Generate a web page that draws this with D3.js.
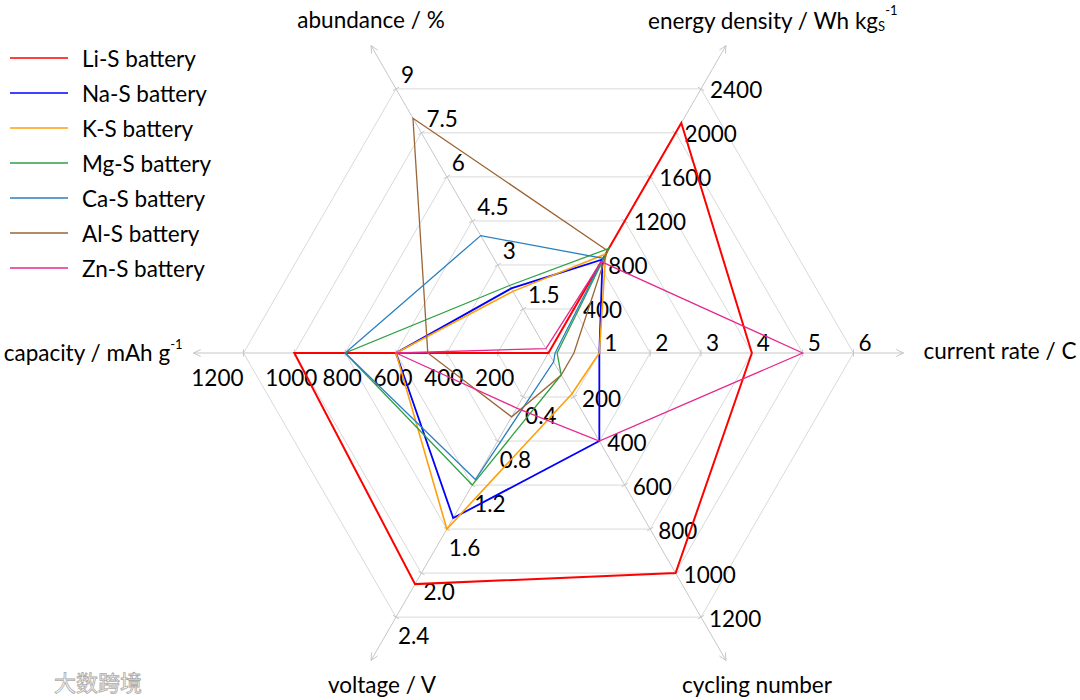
<!DOCTYPE html>
<html>
<head>
<meta charset="utf-8">
<script src="https://cdn.jsdelivr.net/npm/d3@7"></script>
<style>
  html, body { margin: 0; padding: 0; background: #fff; }
  svg { display: block; font-family: Lato, "Open Sans", sans-serif; }
</style>
</head>
<body>
<svg id="chart" width="1080" height="700"></svg>
<script>
// ---- data ----
const axisNames = ["current rate", "energy density", "abundance", "capacity", "voltage", "cycling number"];
const axisMax = [6, 2400, 9, 1200, 2.4, 1200];
const currentTicks = ["1", "2", "3", "4", "5", "6"];
const energyTicks = ["400", "800", "1200", "1600", "2000", "2400"];
const abundanceTicks = ["1.5", "3", "4.5", "6", "7.5", "9"];
const capacityTicks = ["200", "400", "600", "800", "1000", "1200"];
const voltageTicks = ["0.4", "0.8", "1.2", "1.6", "2.0", "2.4"];
const cyclingTicks = ["200", "400", "600", "800", "1000", "1200"];

const seriesNames = ["Li-S battery", "Na-S battery", "K-S battery", "Mg-S battery", "Ca-S battery", "Al-S battery", "Zn-S battery"];
// order of values: current rate, energy density, abundance, capacity, voltage, cycling number
const liS = [4.0, 2090, 0.0017, 1000, 2.1, 1000];
const naS = [1.0, 850, 2.2, 600, 1.5, 400];
const kS  = [1.0, 900, 2.1, 600, 1.6, 185];
const mgS = [0.17, 950, 2.3, 800, 1.2, 100];
const caS = [0.13, 860, 4.0, 800, 1.15, 40];
const alS = [0.5, 930, 8.0, 475, 0.58, 100];
const znS = [5.0, 830, 0.15, 600, 0.5, 400];
const seriesColors = ["#FF0000", "#0000FF", "#FFA00A", "#2EA043", "#2A7FBF", "#9C6535", "#E5288E"];
const seriesWidths = [2, 1.8, 1.6, 1.3, 1.3, 1.3, 1.3];

// ---- layout ----
const svg = d3.select("#chart");
const cx = 548.5, cy = 353, R = 305, axisLen = 355, levels = 6;
const FS = 22.5;
const angles = [0, 60, 120, 180, 240, 300].map(a => a * Math.PI / 180);
const scales = axisMax.map(m => d3.scaleLinear().domain([0, m]).range([0, R]));
const pt = (i, r) => [cx + r * Math.cos(angles[i]), cy - r * Math.sin(angles[i])];

const gridColor = "#D9D9D9", axisColor = "#C6C6C6";

// grid hexagons
const gridG = svg.append("g");
for (let l = 1; l <= levels; l++) {
  const pts = angles.map((a, i) => pt(i, R * l / levels));
  gridG.append("path")
    .attr("d", d3.line().curve(d3.curveLinearClosed)(pts))
    .attr("fill", "none").attr("stroke", gridColor).attr("stroke-width", 1);
}

// axes with arrows and tick marks
const axisG = svg.append("g");
angles.forEach((a, i) => {
  const end = pt(i, axisLen);
  axisG.append("line").attr("x1", cx).attr("y1", cy).attr("x2", end[0]).attr("y2", end[1])
    .attr("stroke", axisColor).attr("stroke-width", 1);
  const back = 8, spread = 0.45;
  const b1 = [end[0] - back * Math.cos(angles[i] - spread), end[1] + back * Math.sin(angles[i] - spread)];
  const b2 = [end[0] - back * Math.cos(angles[i] + spread), end[1] + back * Math.sin(angles[i] + spread)];
  axisG.append("path").attr("d", d3.line()([b1, end, b2]))
    .attr("fill", "none").attr("stroke", axisColor).attr("stroke-width", 1);
  const px = Math.sin(angles[i]), py = Math.cos(angles[i]);
  for (let l = 1; l <= levels; l++) {
    const p = pt(i, R * l / levels);
    axisG.append("line")
      .attr("x1", p[0] - 3.5 * px).attr("y1", p[1] - 3.5 * py)
      .attr("x2", p[0] + 3.5 * px).attr("y2", p[1] + 3.5 * py)
      .attr("stroke", axisColor).attr("stroke-width", 1);
  }
});

// tick labels
const tickLabelSets = [currentTicks, energyTicks, abundanceTicks, capacityTicks, voltageTicks, cyclingTicks];
const tickLayout = [
  { dx: 5, dy: -11, anchor: "start" },
  { dx: 9, dy: 1, anchor: "start" },
  { dx: 5, dy: -14, anchor: "start" },
  { dx: -3, dy: 24, anchor: "middle" },
  { dx: 2, dy: 18, anchor: "start" },
  { dx: 8, dy: 1, anchor: "start" }
];
const tickG = svg.append("g").attr("font-size", FS).attr("fill", "#000");
tickLabelSets.forEach((labels, i) => {
  labels.forEach((lab, k) => {
    const v = +lab;
    const p = pt(i, scales[i](v));
    const lay = tickLayout[i];
    let anchor = lay.anchor, dx = lay.dx;
    if (i === 3 && k === labels.length - 1) { anchor = "end"; dx = 0; }
    tickG.append("text")
      .attr("x", p[0] + dx).attr("y", p[1] + lay.dy)
      .attr("dominant-baseline", "central")
      .attr("text-anchor", anchor)
      .text(lab);
  });
});

// axis titles
const titleG = svg.append("g").attr("font-size", FS).attr("fill", "#000");
function title(i, dx, dy, anchor, text) {
  const end = pt(i, axisLen);
  return titleG.append("text").attr("x", end[0] + dx).attr("y", end[1] + dy)
    .attr("text-anchor", anchor).attr("dominant-baseline", "central").text(text);
}
title(0, 20, -3, "start", axisNames[0] + " / C");
(function () {
  const end = pt(1, axisLen);
  const t = titleG.append("text").attr("x", end[0] - 78).attr("y", end[1] - 26)
    .attr("text-anchor", "start").attr("dominant-baseline", "central");
  t.append("tspan").text(axisNames[1] + " / Wh kg");
  t.append("tspan").attr("font-size", 13).attr("dy", 6).text("S");
  t.append("tspan").attr("font-size", 13).attr("dy", -16).text("-1");
})();
title(2, 0, -26, "middle", axisNames[2] + " / %");
(function () {
  const end = pt(3, axisLen);
  const t = titleG.append("text").attr("x", end[0] - 11).attr("y", end[1] - 1)
    .attr("text-anchor", "end").attr("dominant-baseline", "central");
  t.append("tspan").text(axisNames[3] + " / mAh g");
  t.append("tspan").attr("font-size", 13).attr("dy", -8).text("-1");
})();
title(4, 11, 24, "middle", axisNames[4] + " / V");
title(5, 31, 24, "middle", axisNames[5]);

// series
const allSeries = [liS, naS, kS, mgS, caS, alS, znS];
const lineGen = d3.line().curve(d3.curveLinearClosed);
const seriesG = svg.append("g");
allSeries.forEach((vals, s) => {
  const pts = vals.map((v, i) => pt(i, scales[i](v)));
  seriesG.append("path").attr("d", lineGen(pts))
    .attr("fill", "none").attr("stroke", seriesColors[s])
    .attr("stroke-width", seriesWidths[s]).attr("stroke-linejoin", "miter");
});

// legend
const legG = svg.append("g").attr("font-size", FS).attr("fill", "#000");
seriesNames.forEach((n, s) => {
  const y = 58 + s * 35;
  legG.append("line").attr("x1", 10).attr("x2", 68).attr("y1", y).attr("y2", y)
    .attr("stroke", seriesColors[s]).attr("stroke-width", 1.6);
  legG.append("text").attr("x", 82).attr("y", y).attr("dominant-baseline", "central").text(n);
});

// watermark
svg.append("text").attr("x", 54).attr("y", 681).attr("dominant-baseline", "central")
  .attr("font-family", "'Noto Sans CJK SC', sans-serif").attr("font-size", 22)
  .attr("fill", "#fff").attr("stroke", "#aaa").attr("stroke-width", 0.8).text("大数跨境");
</script>
</body>
</html>
